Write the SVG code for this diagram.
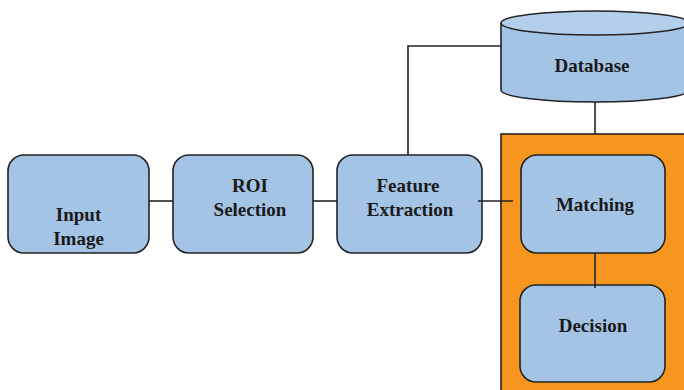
<svg xmlns="http://www.w3.org/2000/svg" width="684" height="390" viewBox="0 0 684 390">
<style>
.box{fill:#a4c4e6;stroke:#222;stroke-width:1.6}
.lbl{font-family:"Liberation Serif",serif;font-weight:bold;font-size:19px;fill:#1a1a1a;text-anchor:middle}
.ln{stroke:#222;stroke-width:1.6;fill:none}
</style>
<rect width="684" height="390" fill="#fff"/>
<g id="stage">
<rect x="501" y="134" width="190" height="260" fill="#f7961f" stroke="#222" stroke-width="1.6"/>
</g>
<g id="input">
<rect class="box" x="8" y="155" width="141" height="98" rx="16"/>
<text class="lbl" x="78.5" y="221">Input</text>
<text class="lbl" x="78.5" y="245">Image</text>
</g>
<g id="roi">
<rect class="box" x="173" y="155" width="140" height="98" rx="16"/>
<text class="lbl" x="250" y="192">ROI</text>
<text class="lbl" x="250" y="216">Selection</text>
</g>
<g id="feature">
<rect class="box" x="337" y="155" width="145" height="98" rx="16"/>
<text class="lbl" x="408" y="192">Feature</text>
<text class="lbl" x="410" y="216">Extraction</text>
</g>
<g id="database">
<path class="box" d="M501,23 L501,90 A94,12 0 0 0 689,90 L689,23"/>
<ellipse cx="595" cy="23" rx="94" ry="12" fill="#b3cfec" stroke="#222" stroke-width="1.6"/>
<text class="lbl" x="592" y="72">Database</text>
</g>
<g id="matching">
<rect class="box" x="521" y="155" width="144" height="98" rx="16"/>
<text class="lbl" x="595" y="211">Matching</text>
</g>
<g id="decision">
<rect class="box" x="520" y="285" width="145" height="97" rx="16"/>
<text class="lbl" x="593" y="332">Decision</text>
</g>
<g id="connectors">
<line class="ln" x1="149" y1="201" x2="173" y2="201"/>
<line class="ln" x1="313" y1="201" x2="337" y2="201"/>
<line class="ln" x1="478" y1="201" x2="513" y2="201"/>
<polyline class="ln" points="408,155 408,46 501,46"/>
<line class="ln" x1="595" y1="102" x2="595" y2="134"/>
<line class="ln" x1="595" y1="253" x2="595" y2="288"/>
</g>
</svg>
